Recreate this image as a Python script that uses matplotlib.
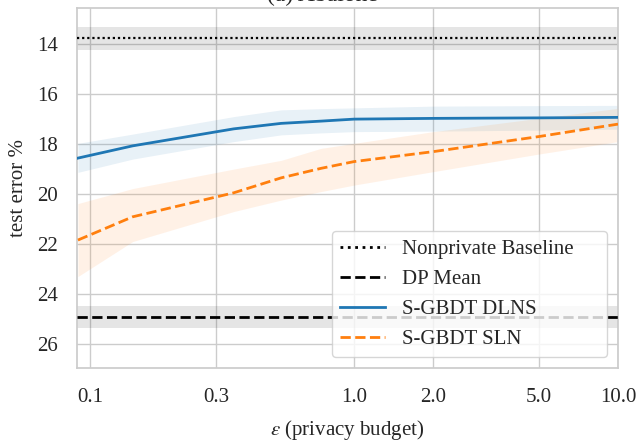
import matplotlib
matplotlib.use("Agg")
import matplotlib.pyplot as plt
from matplotlib.lines import Line2D
import numpy as np

# ---- data ----
eps = [0.09, 0.145, 0.35, 0.53, 0.75, 1.0, 2.0, 5.0, 10.0]
dlns_mean = [18.56, 18.07, 17.39, 17.17, 17.08, 17.00, 16.97, 16.95, 16.93]
dlns_low = [17.97, 17.60, 16.90, 16.63, 16.58, 16.55, 16.48, 16.46, 16.45]
dlns_high = [19.13, 18.60, 17.90, 17.63, 17.55, 17.50, 17.48, 17.44, 17.40]
sln_mean = [21.84, 20.91, 19.95, 19.35, 18.97, 18.70, 18.30, 17.70, 17.20]
sln_low = [20.38, 19.78, 19.00, 18.65, 18.17, 17.97, 17.50, 16.97, 16.57]
sln_high = [23.30, 21.90, 20.70, 20.24, 19.90, 19.64, 19.10, 18.40, 17.90]
baseline_mean = 13.77
baseline_err = 0.45
dpmean_mean = 24.92
dpmean_err = 0.45
labels = ['Nonprivate Baseline', 'DP Mean', 'S-GBDT DLNS', 'S-GBDT SLN']
xticks = [0.1, 0.3, 1.0, 2.0, 5.0, 10.0]
xticklabels = ["0.1", "0.3", "1.0", "2.0", "5.0", "10.0"]
yticks = [14, 16, 18, 20, 22, 24, 26]

plt.rcParams['font.family'] = ['Liberation Serif', 'DejaVu Serif']
plt.rcParams['mathtext.fontset'] = 'stix'

fig = plt.figure(figsize=(6.42, 4.41), dpi=100)
ax = fig.add_axes([0.12, 0.165, 0.8426, 0.817])

blue = '#1f77b4'
orange = '#ff7f0e'
txt = '#262626'

ax.axhspan(baseline_mean - baseline_err, baseline_mean + baseline_err, color='black', alpha=0.1, lw=0, zorder=1)
ax.axhline(baseline_mean, color='black', lw=1.6, dashes=(1, 1.3), zorder=3)
ax.axhspan(dpmean_mean - dpmean_err, dpmean_mean + dpmean_err, color='black', alpha=0.1, lw=0, zorder=1)
ax.axhline(dpmean_mean, color='black', ls='--', lw=2.0, zorder=3)

ax.fill_between(eps, dlns_low, dlns_high, color=blue, alpha=0.1, lw=0, zorder=1)
ax.plot(eps, dlns_mean, color=blue, lw=2.0, zorder=3)
ax.fill_between(eps, sln_low, sln_high, color=orange, alpha=0.1, lw=0, zorder=1)
ax.plot(eps, sln_mean, color=orange, lw=2.0, ls='--', zorder=3)

ax.set_xscale('log')
ax.set_xlim(0.0893, 10.0)
ax.set_ylim(26.97, 12.55)
ax.set_xticks(xticks)
ax.set_xticklabels(xticklabels)
ax.xaxis.set_minor_locator(matplotlib.ticker.NullLocator())
ax.set_yticks(yticks)

ax.grid(True, color='#cccccc', lw=1.0, zorder=0)
ax.set_axisbelow(True)
for s in ax.spines.values():
    s.set_color('#cccccc')
    s.set_linewidth(1.25)
ax.tick_params(axis='both', length=0, pad=14, labelsize=15, labelcolor=txt)

ax.set_xlabel(r'$\varepsilon$ (privacy budget)', fontsize=15, color=txt, labelpad=8)
ax.set_ylabel('test error %', fontsize=15, color=txt, labelpad=6)

handles = [
    Line2D([], [], color='black', lw=2.0, ls=':'),
    Line2D([], [], color='black', lw=2.0, ls='--'),
    Line2D([], [], color=blue, lw=2.0),
    Line2D([], [], color=orange, lw=2.0, ls='--'),
]
leg = ax.legend(handles, labels, loc='lower left', bbox_to_anchor=(0.4713, 0.0306, 0.5084, 0.35),
                mode='expand', borderaxespad=0, fontsize=15, framealpha=0.8,
                edgecolor='#cccccc', fancybox=True, handlelength=2.15)
for t in leg.get_texts():
    t.set_color(txt)

fig.text(0.503, 1 - 1.5 / 441, '(a) Abalone', ha='center', va='baseline', fontsize=17, color=txt)

fig.savefig('out.png', dpi=100)
